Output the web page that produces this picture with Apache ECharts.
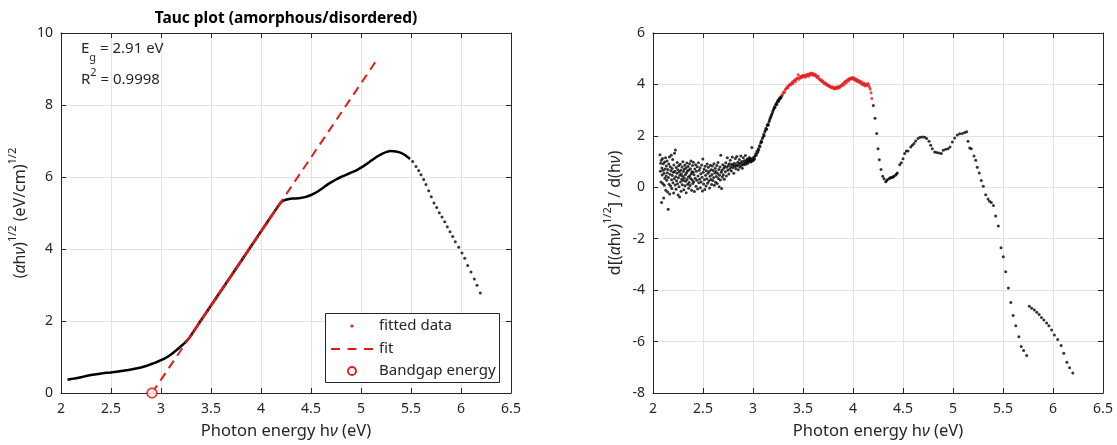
<!DOCTYPE html>
<html><head><meta charset="utf-8">
<script src="https://cdn.jsdelivr.net/npm/echarts@6/dist/echarts.min.js"></script>
<style>html,body{margin:0;padding:0;background:#fff}#c{width:1117px;height:445px}</style>
</head><body><div id="c"></div>
<script>
// ---------- DATA ----------
const titleText = 'Tauc plot (amorphous/disordered)';
const egValue = '2.91 eV';
const r2Value = '0.9998';
const legendNames = ['fitted data', 'fit', 'Bandgap energy'];

// Left plot: measured Tauc curve (dense part, drawn as a continuous trace)
const taucDense = [[2.065,0.37],[2.10,0.39],[2.15,0.41],[2.20,0.44],[2.25,0.47],[2.30,0.50],[2.35,0.52],[2.40,0.54],[2.45,0.56],[2.50,0.57],[2.55,0.59],[2.60,0.61],[2.65,0.63],[2.70,0.65],[2.75,0.68],[2.80,0.71],[2.85,0.75],[2.90,0.80],[2.95,0.85],[3.00,0.91],[3.05,0.98],[3.10,1.07],[3.15,1.18],[3.20,1.30],[3.25,1.43],[3.28,1.52],[3.40,2.02],[3.60,2.84],[3.80,3.66],[4.00,4.49],[4.10,4.90],[4.20,5.30],[4.23,5.35],[4.27,5.38],[4.32,5.40],[4.38,5.41],[4.44,5.44],[4.50,5.50],[4.55,5.57],[4.60,5.66],[4.65,5.76],[4.70,5.85],[4.75,5.93],[4.80,6.00],[4.85,6.06],[4.90,6.12],[4.95,6.18],[5.00,6.26],[5.05,6.35],[5.10,6.45],[5.15,6.55],[5.20,6.63],[5.25,6.69],[5.30,6.72],[5.35,6.71],[5.40,6.67],[5.45,6.59],[5.49,6.50]];
// Left plot: sparse high-energy points (individual dots)
const taucTail = [[5.517,6.43],[5.55,6.29],[5.577,6.18],[5.60,6.06],[5.627,5.93],[5.65,5.79],[5.677,5.62],[5.703,5.45],[5.73,5.28],[5.757,5.15],[5.783,5.01],[5.81,4.89],[5.837,4.76],[5.863,4.62],[5.89,4.48],[5.917,4.35],[5.943,4.20],[5.977,4.05],[6.01,3.89],[6.037,3.74],[6.067,3.54],[6.10,3.36],[6.133,3.17],[6.16,2.99],[6.193,2.78]];
// Left plot: points used in the linear fit
const fittedData = [[3.28,1.52],[3.30,1.60],[3.32,1.69],[3.34,1.77],[3.36,1.85],[3.38,1.93],[3.40,2.02],[3.42,2.10],[3.44,2.18],[3.46,2.26],[3.48,2.35],[3.50,2.43],[3.52,2.51],[3.54,2.59],[3.56,2.67],[3.58,2.76],[3.60,2.84],[3.62,2.92],[3.64,3.00],[3.66,3.09],[3.68,3.17],[3.70,3.25],[3.72,3.33],[3.74,3.42],[3.76,3.50],[3.78,3.58],[3.80,3.66],[3.82,3.74],[3.84,3.83],[3.86,3.91],[3.88,3.99],[3.90,4.07],[3.92,4.16],[3.94,4.24],[3.96,4.32],[3.98,4.40],[4.00,4.49],[4.02,4.57],[4.04,4.65],[4.06,4.73],[4.08,4.81],[4.10,4.90],[4.12,4.98],[4.14,5.06],[4.16,5.14],[4.18,5.22],[4.20,5.30]];
const fitLine = [[2.91,0],[5.16,9.26]];
const bandgapPoint = [[2.91,0]];

// Right plot: derivative values
const derivNoise = [[2.070,1.27],[2.074,0.62],[2.077,0.93],[2.080,0.21],[2.083,1.05],[2.086,-0.59],[2.089,0.75],[2.092,0.48],[2.095,1.12],[2.098,0.15],[2.101,0.66],[2.104,0.92],[2.107,-0.42],[2.110,0.55],[2.113,0.08],[2.116,0.98],[2.119,0.35],[2.122,0.71],[2.125,1.15],[2.128,-0.12],[2.131,0.44],[2.134,0.83],[2.137,0.27],[2.140,1.02],[2.143,0.57],[2.146,-0.18],[2.149,0.69],[2.152,-0.85],[2.155,0.38],[2.158,0.91],[2.161,0.12],[2.164,1.18],[2.167,-0.26],[2.170,0.51],[2.173,0.80],[2.176,0.05],[2.179,0.64],[2.182,1.25],[2.185,0.29],[2.188,-0.05],[2.191,0.73],[2.194,0.46],[2.197,1.08],[2.200,0.18],[2.203,0.58],[2.206,-0.22],[2.209,0.87],[2.212,0.33],[2.215,1.32],[2.218,0.62],[2.221,0.09],[2.224,1.45],[2.227,0.41],[2.230,-0.08],[2.233,0.77],[2.236,0.25],[2.239,0.55],[2.242,0.96],[2.245,0.14],[2.248,0.68],[2.251,-0.30],[2.254,0.37],[2.257,0.84],[2.260,0.02],[2.263,0.59],[2.266,-0.38],[2.269,0.47],[2.272,0.90],[2.275,0.21],[2.278,0.66],[2.281,-0.15],[2.284,0.52],[2.287,0.31],[2.290,0.79],[2.293,0.10],[2.296,0.43],[2.299,0.99],[2.302,0.26],[2.305,0.61],[2.308,-0.10],[2.311,0.70],[2.314,0.36],[2.317,0.86],[2.320,0.06],[2.323,0.49],[2.326,0.23],[2.329,0.75],[2.332,-0.21],[2.335,0.56],[2.338,0.94],[2.341,0.30],[2.344,0.63],[2.347,0.12],[2.350,0.81],[2.353,0.40],[2.356,-0.04],[2.359,0.67],[2.362,0.19],[2.365,0.92],[2.368,0.45],[2.371,0.07],[2.374,0.72],[2.377,0.34],[2.380,1.02],[2.383,0.53],[2.386,-0.12],[2.389,0.60],[2.392,0.28],[2.395,0.85],[2.398,0.15],[2.401,0.58],[2.404,0.97],[2.407,0.22],[2.410,0.49],[2.414,-0.16],[2.418,0.71],[2.422,0.35],[2.426,0.88],[2.430,0.04],[2.434,0.62],[2.438,0.27],[2.442,0.80],[2.446,-0.07],[2.450,0.44],[2.454,0.95],[2.458,0.18],[2.462,0.66],[2.466,0.31],[2.470,0.76],[2.474,-0.02],[2.478,0.53],[2.482,0.21],[2.486,0.87],[2.490,0.39],[2.494,-0.14],[2.498,1.10],[2.502,0.58],[2.506,0.13],[2.510,0.70],[2.514,0.29],[2.518,-0.09],[2.522,0.82],[2.526,0.47],[2.530,0.05],[2.534,0.64],[2.538,0.33],[2.542,0.91],[2.546,0.16],[2.550,0.55],[2.554,0.78],[2.558,0.24],[2.562,0.61],[2.566,-0.03],[2.570,0.43],[2.574,0.86],[2.578,0.30],[2.582,0.68],[2.586,0.11],[2.590,0.50],[2.594,0.83],[2.598,0.26],[2.602,0.65],[2.606,0.38],[2.610,0.92],[2.614,0.08],[2.618,0.56],[2.622,0.74],[2.626,0.20],[2.630,0.61],[2.634,0.42],[2.638,0.85],[2.642,0.15],[2.646,0.54],[2.650,0.96],[2.654,0.34],[2.658,0.69],[2.662,0.02],[2.666,0.47],[2.670,0.79],[2.674,0.28],[2.678,1.25],[2.682,0.58],[2.686,-0.05],[2.690,0.66],[2.694,0.40],[2.698,0.88],[2.703,0.49],[2.708,0.74],[2.713,0.31],[2.718,0.82],[2.723,0.60],[2.728,0.95],[2.733,0.44],[2.738,0.78],[2.743,1.15],[2.748,0.66],[2.753,0.85],[2.758,0.52],[2.763,0.92],[2.768,0.71],[2.773,1.05],[2.778,0.80],[2.783,0.63],[2.788,0.90],[2.793,1.18],[2.798,0.76],[2.803,0.86],[2.808,0.55],[2.813,0.93],[2.818,0.81],[2.823,1.12],[2.828,0.72],[2.833,0.88],[2.838,1.20],[2.843,0.83],[2.848,0.97],[2.853,0.68],[2.858,0.89],[2.863,1.08],[2.868,0.79],[2.873,0.94],[2.878,1.22],[2.883,0.85],[2.888,1.00],[2.893,0.74],[2.898,0.92],[2.903,1.15],[2.908,0.88],[2.913,1.03],[2.918,0.95],[2.923,1.24],[2.928,0.90],[2.933,1.05],[2.938,0.98],[2.943,1.10],[2.948,0.93],[2.953,1.07],[2.958,1.00],[2.963,1.16],[2.968,1.03],[2.973,1.12],[2.978,0.98],[2.983,1.08],[2.988,1.55],[2.993,1.02],[2.998,1.13]];
const derivRise = [[3.004,1.05],[3.010,1.18],[3.016,1.10],[3.022,1.22],[3.028,1.30],[3.034,1.26],[3.040,1.40],[3.046,1.35],[3.052,1.50],[3.058,1.45],[3.064,1.62],[3.070,1.58],[3.076,1.72],[3.082,1.80],[3.088,1.76],[3.094,1.90],[3.100,1.96],[3.106,2.05],[3.112,2.00],[3.118,2.15],[3.124,2.22],[3.130,2.30],[3.136,2.26],[3.142,2.40],[3.148,2.45],[3.154,2.42],[3.160,2.55],[3.166,2.62],[3.172,2.68],[3.178,2.74],[3.184,2.80],[3.190,2.86],[3.196,2.93],[3.202,3.00],[3.208,3.05],[3.214,3.12],[3.220,3.10],[3.226,3.20],[3.232,3.26],[3.238,3.22],[3.244,3.32],[3.250,3.38],[3.256,3.35],[3.262,3.42],[3.268,3.48],[3.274,3.45],[3.280,3.50],[3.286,3.56]];
const derivRed = [[3.292,3.58],[3.300,3.66],[3.308,3.72],[3.316,3.70],[3.324,3.80],[3.332,3.84],[3.340,3.90],[3.348,3.87],[3.356,3.95],[3.364,3.98],[3.372,4.02],[3.380,3.99],[3.388,4.06],[3.396,4.10],[3.404,4.05],[3.412,4.14],[3.420,4.18],[3.428,4.12],[3.436,4.22],[3.444,4.25],[3.452,4.38],[3.460,4.20],[3.468,4.28],[3.476,4.31],[3.484,4.26],[3.492,4.34],[3.500,4.30],[3.508,4.36],[3.516,4.33],[3.524,4.28],[3.532,4.38],[3.540,4.35],[3.548,4.40],[3.556,4.32],[3.564,4.42],[3.572,4.37],[3.580,4.44],[3.588,4.39],[3.596,4.43],[3.604,4.36],[3.612,4.41],[3.620,4.34],[3.628,4.38],[3.636,4.30],[3.644,4.27],[3.652,4.32],[3.660,4.22],[3.668,4.19],[3.676,4.15],[3.684,4.18],[3.692,4.10],[3.700,4.12],[3.708,4.06],[3.716,4.03],[3.724,4.07],[3.732,3.99],[3.740,4.01],[3.748,3.95],[3.756,3.97],[3.764,3.92],[3.772,3.94],[3.780,3.89],[3.788,3.86],[3.796,3.91],[3.804,3.88],[3.812,3.82],[3.820,3.85],[3.828,3.90],[3.836,3.84],[3.844,3.87],[3.852,3.92],[3.860,3.86],[3.868,3.90],[3.876,3.96],[3.884,3.93],[3.892,4.00],[3.900,4.04],[3.908,3.98],[3.916,4.08],[3.924,4.12],[3.932,4.06],[3.940,4.15],[3.948,4.19],[3.956,4.13],[3.964,4.22],[3.972,4.25],[3.980,4.20],[3.988,4.26],[3.996,4.22],[4.004,4.27],[4.012,4.18],[4.020,4.23],[4.028,4.14],[4.036,4.20],[4.044,4.11],[4.052,4.16],[4.060,4.08],[4.068,4.13],[4.076,4.05],[4.084,4.10],[4.092,4.02],[4.100,3.98],[4.108,4.06],[4.116,4.00],[4.124,3.94],[4.132,4.02],[4.140,3.96],[4.148,4.04],[4.156,3.98],[4.164,3.90],[4.172,3.82],[4.180,3.68],[4.188,3.45]];
const derivFall = [[4.203,3.18],[4.22,2.68],[4.237,2.09],[4.25,1.50],[4.263,1.07],[4.28,0.69],[4.297,0.43],[4.31,0.33],[4.327,0.22],[4.335,0.25],[4.343,0.29],[4.36,0.33],[4.37,0.36],[4.377,0.38],[4.393,0.38],[4.40,0.41],[4.41,0.43],[4.427,0.48],[4.435,0.52],[4.443,0.56],[4.467,0.88],[4.483,0.95],[4.50,1.11],[4.517,1.31],[4.533,1.41],[4.55,1.41],[4.577,1.57],[4.593,1.63],[4.61,1.70],[4.627,1.80],[4.65,1.90],[4.67,1.95],[4.693,1.96],[4.717,1.95],[4.737,1.90],[4.76,1.79],[4.777,1.63],[4.793,1.50],[4.817,1.37],[4.837,1.35],[4.86,1.33],[4.883,1.31],[4.903,1.44],[4.927,1.48],[4.95,1.50],[4.97,1.57],[4.993,1.76],[5.017,1.92],[5.043,2.03],[5.067,2.08],[5.093,2.09],[5.117,2.13],[5.137,2.16],[5.15,1.79],[5.167,1.53],[5.183,1.50],[5.21,1.22],[5.227,1.05],[5.243,0.78],[5.263,0.56],[5.283,0.26],[5.303,0.04],[5.327,-0.29],[5.35,-0.46],[5.365,-0.54],[5.383,-0.59],[5.405,-0.71],[5.426,-1.12],[5.453,-1.51],[5.48,-2.35],[5.503,-2.70],[5.527,-3.28],[5.554,-3.92],[5.578,-4.48],[5.601,-4.99],[5.628,-5.38],[5.659,-5.81],[5.682,-6.19],[5.706,-6.35],[5.736,-6.54]];
const derivTail = [[5.764,-4.63],[5.787,-4.70],[5.814,-4.77],[5.838,-4.86],[5.861,-4.95],[5.885,-5.06],[5.909,-5.16],[5.936,-5.28],[5.959,-5.38],[5.986,-5.55],[6.014,-5.74],[6.047,-5.92],[6.081,-6.15],[6.108,-6.45],[6.139,-6.80],[6.166,-7.02],[6.198,-7.22]];

// ---------- CHART ----------
const FONT = "'Noto Sans', sans-serif";
const INK = '#262626';
const RED = '#e41a1c';
const GRIDC = '#e2e2e2';
const G = [{left:61, top:33, width:450, height:362}, {left:653, top:33, width:450, height:362}];

function xAxisDef(gi, pos, main, name) {
  return {
    gridIndex: gi, type: 'value', position: pos, min: 2, max: 6.5, interval: 0.5,
    axisLine: {show: true, onZero: false, lineStyle: {color: INK, width: 1}},
    axisTick: {show: true, inside: true, length: 5, lineStyle: {color: INK}},
    axisLabel: {show: main, color: INK, fontSize: 14, fontFamily: FONT, margin: 9},
    splitLine: {show: main, lineStyle: {color: GRIDC, width: 1}},
    name: name || '', nameLocation: 'middle', nameGap: 30,
    nameTextStyle: {color: INK, fontSize: 16.5, fontFamily: FONT,
      rich: {nu: {fontStyle: 'italic', fontSize: 16.5, fontFamily: FONT, color: INK}}}
  };
}
function yAxisDef(gi, pos, main, min, max, name, gap) {
  return {
    gridIndex: gi, type: 'value', position: pos, min: min, max: max, interval: 2,
    axisLine: {show: true, onZero: false, lineStyle: {color: INK, width: 1}},
    axisTick: {show: true, inside: true, length: 5, lineStyle: {color: INK}},
    axisLabel: {show: main, color: INK, fontSize: 14, fontFamily: FONT, margin: 8},
    splitLine: {show: main, lineStyle: {color: GRIDC, width: 1}},
    name: name || '', nameLocation: 'middle', nameGap: gap || 0, nameRotate: 90,
    nameTextStyle: {color: INK, fontSize: 16, fontFamily: FONT, lineHeight: 26,
      rich: {
        a: {fontStyle: 'italic', fontSize: 16, fontFamily: FONT, color: INK, lineHeight: 26},
        s: {fontSize: 11, fontFamily: FONT, color: INK, lineHeight: 11, verticalAlign: 'top'}
      }}
  };
}

// legend box geometry (pixels)
const LB = {x: 325.5, y: 313.5, w: 174, h: 69, iconL: 331, iconR: 373, textX: 379, rows: [326, 349, 371]};
const legendText = (i) => ({type: 'text', z: 7, x: LB.textX, y: LB.rows[i],
  style: {text: legendNames[i], fontSize: 15, fontFamily: FONT, fill: INK, verticalAlign: 'middle', align: 'left'}});

const chart = echarts.init(document.getElementById('c'));
chart.setOption({
  animation: false,
  backgroundColor: '#fff',
  textStyle: {fontFamily: FONT},
  title: {text: titleText, left: 286, top: 11, textAlign: 'center', padding: 0,
    textStyle: {fontSize: 15.5, fontWeight: 'bold', color: '#000', fontFamily: FONT}},
  grid: G,
  xAxis: [
    xAxisDef(0, 'bottom', true, 'Photon energy h{nu|ν} (eV)'),
    xAxisDef(0, 'top', false),
    xAxisDef(1, 'bottom', true, 'Photon energy h{nu|ν} (eV)'),
    xAxisDef(1, 'top', false)
  ],
  yAxis: [
    yAxisDef(0, 'left', true, 0, 10, '({a|α}h{a|ν}){s|1/2} (eV/cm){s|1/2}', 25),
    yAxisDef(0, 'right', false, 0, 10),
    yAxisDef(1, 'left', true, -8, 6, 'd[({a|α}h{a|ν}){s|1/2}] / d(h{a|ν})', 22),
    yAxisDef(1, 'right', false, -8, 6)
  ],
  graphic: [
    // legend (box, icons, labels)
    {type: 'rect', z: 5, shape: {x: LB.x, y: LB.y, width: LB.w, height: LB.h},
      style: {fill: '#fff', stroke: INK, lineWidth: 1}},
    {type: 'circle', z: 6, shape: {cx: (LB.iconL + LB.iconR) / 2, cy: LB.rows[0], r: 1.6}, style: {fill: RED}},
    {type: 'line', z: 6, shape: {x1: LB.iconL, y1: LB.rows[1], x2: LB.iconR, y2: LB.rows[1]},
      style: {stroke: RED, lineWidth: 2, lineDash: [9, 7.5]}},
    {type: 'circle', z: 6, shape: {cx: (LB.iconL + LB.iconR) / 2, cy: LB.rows[2], r: 4},
      style: {fill: 'none', stroke: RED, lineWidth: 1.8}},
    legendText(0), legendText(1), legendText(2),
    // annotations
    {type: 'text', z: 5, x: 81, y: 49,
      style: {text: 'E{sub|g} = ' + egValue, fontSize: 15, fontFamily: FONT, fill: INK,
        verticalAlign: 'middle', lineHeight: 28,
        rich: {sub: {fontSize: 11, fontFamily: FONT, fill: INK, lineHeight: 12, verticalAlign: 'bottom'}}}},
    {type: 'text', z: 5, x: 81, y: 80,
      style: {text: 'R{sup|2} = ' + r2Value, fontSize: 15, fontFamily: FONT, fill: INK,
        verticalAlign: 'middle', lineHeight: 26,
        rich: {sup: {fontSize: 11, fontFamily: FONT, fill: INK, lineHeight: 12, verticalAlign: 'top'}}}}
  ],
  series: [
    {type: 'line', name: 'data', xAxisIndex: 0, yAxisIndex: 0, data: taucDense, smooth: 0.2,
      showSymbol: false, lineStyle: {color: '#000', width: 2.5}, z: 2},
    {type: 'scatter', name: 'data tail', xAxisIndex: 0, yAxisIndex: 0, data: taucTail,
      symbol: 'circle', symbolSize: 3, itemStyle: {color: '#000'}, z: 2},
    {type: 'scatter', name: legendNames[0], xAxisIndex: 0, yAxisIndex: 0, data: fittedData,
      symbol: 'circle', symbolSize: 3, itemStyle: {color: RED}, z: 3},
    {type: 'line', name: legendNames[1], xAxisIndex: 0, yAxisIndex: 0, data: fitLine,
      symbol: 'none', lineStyle: {color: RED, width: 2, type: [9, 6]}, itemStyle: {color: RED}, z: 3},
    {type: 'scatter', name: legendNames[2], xAxisIndex: 0, yAxisIndex: 0, data: bandgapPoint,
      symbol: 'emptyCircle', symbolSize: 9.5, clip: false,
      itemStyle: {color: RED, borderColor: RED, borderWidth: 1.8}, z: 4},
    {type: 'scatter', name: 'deriv', xAxisIndex: 2, yAxisIndex: 2,
      data: [].concat(derivNoise, derivRise, derivFall, derivTail),
      symbol: 'circle', symbolSize: 3, itemStyle: {color: '#000'}, z: 2},
    {type: 'scatter', name: 'deriv fitted', xAxisIndex: 2, yAxisIndex: 2, data: derivRed,
      symbol: 'circle', symbolSize: 3, itemStyle: {color: RED}, z: 3}
  ]
});
</script>
</body></html>
